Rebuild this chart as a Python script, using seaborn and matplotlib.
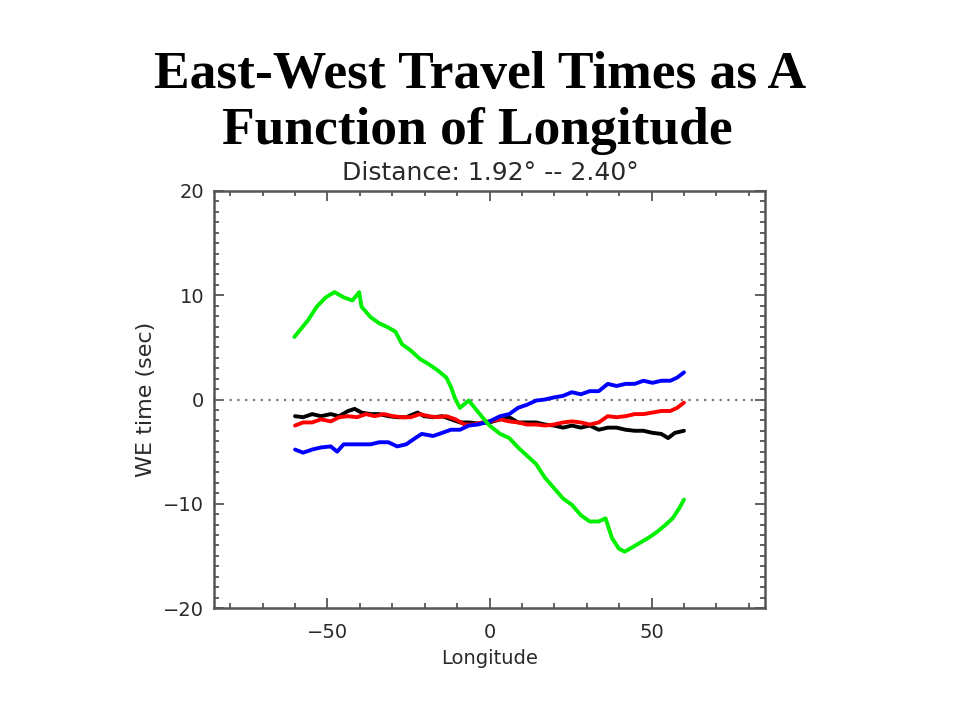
import matplotlib
matplotlib.use("Agg")
import matplotlib.pyplot as plt
from matplotlib.ticker import MultipleLocator
import numpy as np
import pandas as pd
import seaborn as sns

# ---- data ----
green_lon = [-60.2, -56, -53.3, -50.5, -47.8, -45, -42.3, -40.2, -39.5, -36.7, -34, -31.2, -29,
             -27, -24.3, -21.5, -18.8, -16, -13.3, -11.9, -10.5, -9.1, -6.4, -4.3, -2.2, 0,
             3.3, 6.1, 8.8, 11.6, 14.4, 17.1, 19.9, 22.7, 25.4, 28.2, 30.9, 33.7, 35.8, 37.8,
             39.9, 41.7, 43.4, 46.1, 48.9, 51.7, 54.4, 56.5, 58.6, 60]
green_val = [6.0, 7.6, 8.9, 9.8, 10.3, 9.8, 9.5, 10.3, 8.9, 7.9, 7.3, 6.9, 6.5,
             5.3, 4.7, 3.9, 3.4, 2.8, 2.1, 1.2, 0.0, -0.8, -0.1, -0.9, -1.7, -2.5,
             -3.3, -3.7, -4.6, -5.4, -6.2, -7.5, -8.5, -9.5, -10.1, -11.1, -11.7, -11.7, -11.4, -13.3,
             -14.3, -14.6, -14.3, -13.8, -13.3, -12.7, -12.0, -11.4, -10.4, -9.6]

blue_lon = [-60, -57.5, -54.7, -52, -49, -47, -45, -42.3, -39.5, -36.7, -34, -31.2, -28.5,
            -25.7, -22.9, -20.9, -17.4, -14.6, -11.9, -9.1, -6.4, -3.6, 0, 3.3, 6.1, 8.8,
            11.6, 14.4, 17.1, 19.9, 22.7, 25.4, 28.2, 30.9, 33.7, 36.5, 39.2, 42, 44.8,
            47.5, 50.3, 53, 55.8, 57.9, 60]
blue_val = [-4.8, -5.1, -4.8, -4.6, -4.5, -5.0, -4.3, -4.3, -4.3, -4.3, -4.1, -4.1, -4.5,
            -4.3, -3.7, -3.3, -3.5, -3.2, -2.9, -2.9, -2.5, -2.4, -2.1, -1.6, -1.4, -0.8,
            -0.5, -0.1, 0.0, 0.2, 0.35, 0.7, 0.5, 0.8, 0.8, 1.5, 1.3, 1.5, 1.5,
            1.8, 1.6, 1.8, 1.8, 2.1, 2.6]

black_lon = [-60, -57.5, -54.7, -52, -49, -46.4, -43.6, -41.6, -39.5, -36.7, -34, -31.2, -28.5,
             -25.7, -22.2, -20.2, -17.4, -14.6, -11.9, -9.1, -6.4, -3.6, 0, 3.3, 6.1, 8.8,
             11.6, 14.4, 17.1, 19.9, 22.7, 25.4, 28.2, 30.9, 33.7, 36.5, 39.2, 42, 44.8,
             47.5, 50.3, 53, 55.1, 57.2, 60]
black_val = [-1.6, -1.7, -1.4, -1.6, -1.4, -1.6, -1.1, -0.9, -1.25, -1.4, -1.4, -1.6, -1.7,
             -1.7, -1.25, -1.6, -1.7, -1.6, -1.9, -2.2, -2.2, -2.3, -2.2, -1.9, -1.7, -2.2,
             -2.2, -2.2, -2.4, -2.5, -2.7, -2.5, -2.7, -2.5, -2.9, -2.7, -2.7, -2.9, -3.0,
             -3.0, -3.2, -3.3, -3.7, -3.2, -3.0]

red_lon = [-60, -57.5, -54.7, -52, -49, -46.4, -43.6, -40.9, -38.1, -35.4, -32.6, -29.8, -27,
           -24.3, -21.5, -18.8, -16, -13.3, -10.5, -7.7, -5, -2.2, 0, 3.3, 6.1, 8.8,
           11.6, 14.4, 17.1, 19.9, 22.7, 25.4, 28.2, 30.9, 33.7, 36.5, 39.2, 42, 44.8,
           47.5, 50.3, 53, 55.8, 57.9, 60]
red_val = [-2.5, -2.2, -2.2, -1.9, -2.1, -1.7, -1.6, -1.7, -1.4, -1.6, -1.4, -1.6, -1.7,
           -1.7, -1.4, -1.6, -1.7, -1.6, -1.9, -2.4, -2.4, -2.2, -2.1, -1.9, -2.1, -2.2,
           -2.4, -2.4, -2.5, -2.4, -2.2, -2.1, -2.2, -2.4, -2.2, -1.6, -1.7, -1.6, -1.4,
           -1.4, -1.25, -1.1, -1.1, -0.8, -0.3]

series_order = ["black", "red", "blue", "green"]
series_colors = {"black": "#000000", "red": "#ff0000", "blue": "#0000ff", "green": "#00f000"}

title_lines = ["East-West Travel Times as A", "Function of Longitude"]
subtitle = "Distance: 1.92\u00b0 -- 2.40\u00b0"
x_label = "Longitude"
y_label = "WE time (sec)"

frames = []
for name, lon, val in [("black", black_lon, black_val), ("red", red_lon, red_val),
                       ("blue", blue_lon, blue_val), ("green", green_lon, green_val)]:
    frames.append(pd.DataFrame({"lon": lon, "val": val, "series": name}))
df = pd.concat(frames, ignore_index=True)

# ---- styling ----
sns.set_theme(style="white")
plt.rcParams["font.family"] = ["DejaVu Sans"]
ink = "#2a2a2a"
spine_c = "#555555"

fig = plt.figure(figsize=(9.6, 7.2), dpi=100)
ax = fig.add_axes([214 / 960, (720 - 608) / 720, 551 / 960, 417 / 720])

ax.axhline(0, color="#777777", linestyle=(0, (1, 2.5)), linewidth=1.6, zorder=1)

for name in series_order:
    sns.lineplot(data=df[df["series"] == name], x="lon", y="val", color=series_colors[name],
                 linewidth=2.8, estimator=None, sort=False, legend=False, ax=ax, zorder=3)

ax.set_xlim(-85, 85)
ax.set_ylim(-20, 20)
ax.xaxis.set_major_locator(MultipleLocator(50))
ax.xaxis.set_minor_locator(MultipleLocator(10))
ax.yaxis.set_major_locator(MultipleLocator(10))
ax.yaxis.set_minor_locator(MultipleLocator(1))
ax.tick_params(which="both", direction="in", top=True, right=True, bottom=True, left=True,
               color=spine_c, width=1.3)
ax.tick_params(which="major", length=7)
ax.tick_params(which="minor", length=3.5)
ax.tick_params(axis="x", which="major", labelsize=14, labelcolor=ink, pad=11)
ax.tick_params(axis="y", which="major", labelsize=14, labelcolor=ink, pad=7)
for s in ax.spines.values():
    s.set_color(spine_c)
    s.set_linewidth(1.8)

ax.set_xlabel(x_label, fontsize=14, color=ink, labelpad=5)
ax.set_ylabel(y_label, fontsize=16, color=ink, labelpad=5)

fig.text(0.5, 1 - 88 / 720, title_lines[0], ha="center", va="baseline", fontsize=38.5,
         fontweight="bold", family="Liberation Serif", color="black")
fig.text(0.497, 1 - 144 / 720, title_lines[1], ha="center", va="baseline", fontsize=38.5,
         fontweight="bold", family="Liberation Serif", color="black")
fig.text(490 / 960, 1 - 180 / 720, subtitle, ha="center", va="baseline", fontsize=18,
         color=ink)

fig.savefig("out.png", dpi=100, facecolor="white")
